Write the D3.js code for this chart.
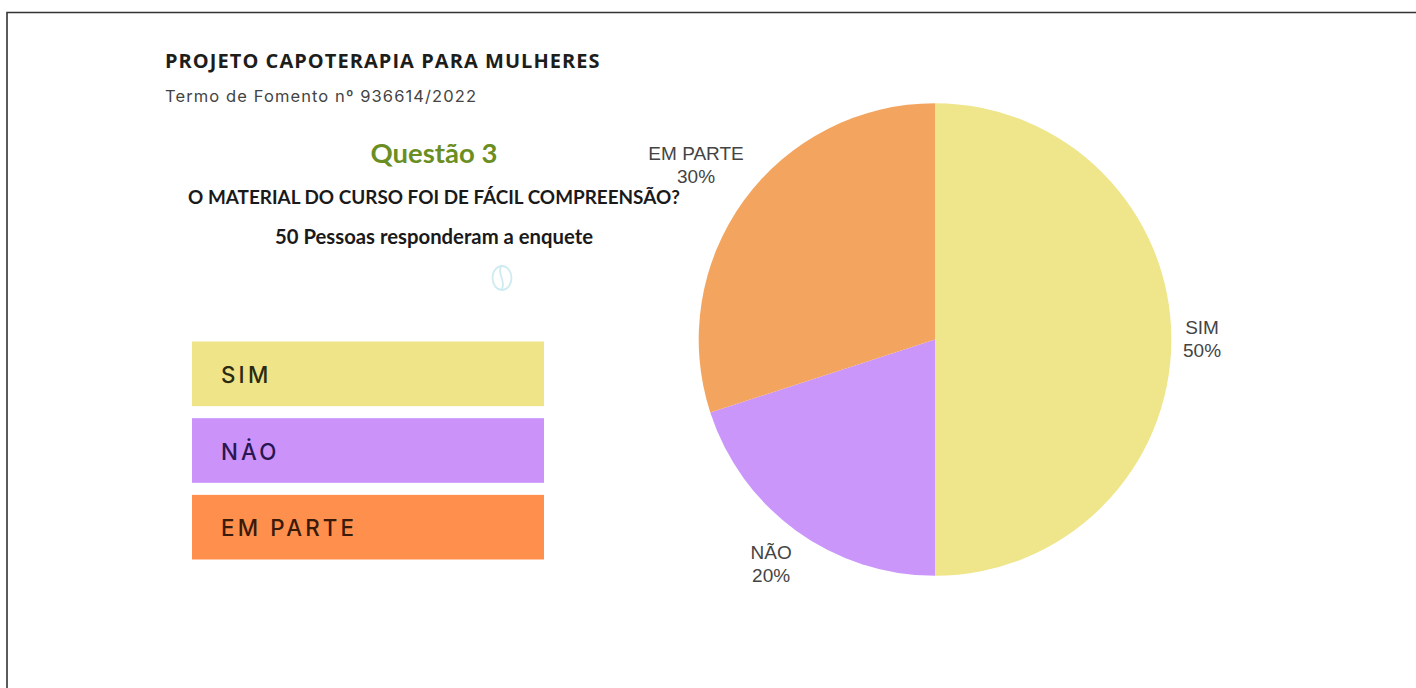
<!DOCTYPE html>
<html>
<head>
<meta charset="utf-8">
<script src="https://cdn.jsdelivr.net/npm/d3@7"></script>
<style>
    html, body { margin: 0; padding: 0; background: #fff; overflow: hidden; }
</style>
</head>
<body>
<div id="chart"></div>
<script>
// pie data
let categories = ["SIM", "NÃO", "EM PARTE"];
let percentages = [50, 20, 30];
let pieColors = ["#EFE58A", "#CB96FA", "#F3A560"];

// legend
let legendLabels = ["SIM", "NȦO", "EM PARTE"];
let legendColors = ["#F0E488", "#CB93FA", "#FF8F4C"];
let legendTextColors = ["#2b2a12", "#2a1650", "#3a1a08"];

let width = 1416;
let height = 688;

let svg = d3.select("#chart").append("svg")
    .attr("width", width)
    .attr("height", height)
    .style("display", "block");

// page frame, only top and left are visible
svg.append("path")
    .attr("d", `M7 ${height} V12.5 H${width}`)
    .attr("fill", "none")
    .attr("stroke", "#333")
    .attr("stroke-width", 1.6);

// header
svg.append("text")
    .attr("x", 165).attr("y", 68)
    .attr("font-family", "Open Sans").attr("font-weight", 700).attr("font-size", 20)
    .attr("letter-spacing", 1.05)
    .attr("fill", "#1d1d1b")
    .text("PROJETO CAPOTERAPIA PARA MULHERES");

svg.append("text")
    .attr("x", 165).attr("y", 102)
    .attr("font-family", "Inter").attr("font-size", 16.5)
    .attr("letter-spacing", 1.1)
    .attr("fill", "#444")
    .text("Termo de Fomento nº 936614/2022");

svg.append("text")
    .attr("x", 434).attr("y", 163)
    .attr("text-anchor", "middle")
    .attr("font-family", "Lato").attr("font-weight", 700).attr("font-size", 27.5)
    .attr("fill", "#6b8e23")
    .text("Questão 3");

svg.append("text")
    .attr("x", 434).attr("y", 204)
    .attr("text-anchor", "middle")
    .attr("font-family", "Lato").attr("font-weight", 700).attr("font-size", 18.9)
    .attr("fill", "#1a1a1a")
    .text("O MATERIAL DO CURSO FOI DE FÁCIL COMPREENSÃO?");

svg.append("text")
    .attr("x", 434).attr("y", 244)
    .attr("text-anchor", "middle")
    .attr("font-family", "Lato").attr("font-weight", 700).attr("font-size", 20.3)
    .attr("fill", "#1a1a1a")
    .text("50 Pessoas responderam a enquete");

// faint logo under the text
let logo = svg.append("g")
    .attr("transform", "translate(502,278)")
    .attr("fill", "none")
    .attr("stroke", "#cdebf1")
    .attr("stroke-width", 1.8);
logo.append("ellipse").attr("rx", 9.5).attr("ry", 12);
logo.append("path").attr("d", "M-1 -11 C-5 -4 4 2 0 11");

// legend
let legendY = d3.scaleBand()
    .domain(legendLabels)
    .range([341.5, 559.5])
    .paddingInner(0.157);

svg.selectAll(".legend-box")
    .data(legendLabels)
    .enter()
    .append("rect")
    .attr("class", "legend-box")
    .attr("x", 192)
    .attr("y", d => legendY(d))
    .attr("width", 352)
    .attr("height", legendY.bandwidth())
    .attr("fill", (d, i) => legendColors[i]);

svg.selectAll(".legend-label")
    .data(legendLabels)
    .enter()
    .append("text")
    .attr("class", "legend-label")
    .attr("x", 221)
    .attr("y", d => legendY(d) + legendY.bandwidth() / 2 + 9)
    .attr("font-family", "Inter").attr("font-weight", 500).attr("font-size", 22.3)
    .attr("letter-spacing", 3.2)
    .attr("fill", (d, i) => legendTextColors[i])
    .text(d => d);

// pie
let cx = 935;
let cy = 339.5;
let radius = 236.3;

let pie = d3.pie().sort(null);
let arc = d3.arc().innerRadius(0).outerRadius(radius);

// labels sit at a different distance from the centre on each slice
let labelDistance = [1.13, 1.18, 1.25];

let pieGroup = svg.append("g")
    .attr("transform", `translate(${cx},${cy})`);

let slices = pie(percentages);

pieGroup.selectAll(".slice")
    .data(slices)
    .enter()
    .append("path")
    .attr("class", "slice")
    .attr("d", arc)
    .attr("fill", (d, i) => pieColors[i]);

let labels = pieGroup.selectAll(".pie-label")
    .data(slices)
    .enter()
    .append("text")
    .attr("class", "pie-label")
    .attr("transform", (d, i) => {
        let r = radius * labelDistance[i];
        return `translate(${d3.arc().innerRadius(r).outerRadius(r).centroid(d)})`;
    })
    .attr("text-anchor", "middle")
    .attr("font-family", "Liberation Sans").attr("font-size", 19)
    .attr("fill", "#444");

labels.append("tspan")
    .attr("x", 0).attr("dy", "-0.3em")
    .text((d, i) => categories[i]);
labels.append("tspan")
    .attr("x", 0).attr("dy", "1.2em")
    .text(d => d.data + "%");
</script>
</body>
</html>
